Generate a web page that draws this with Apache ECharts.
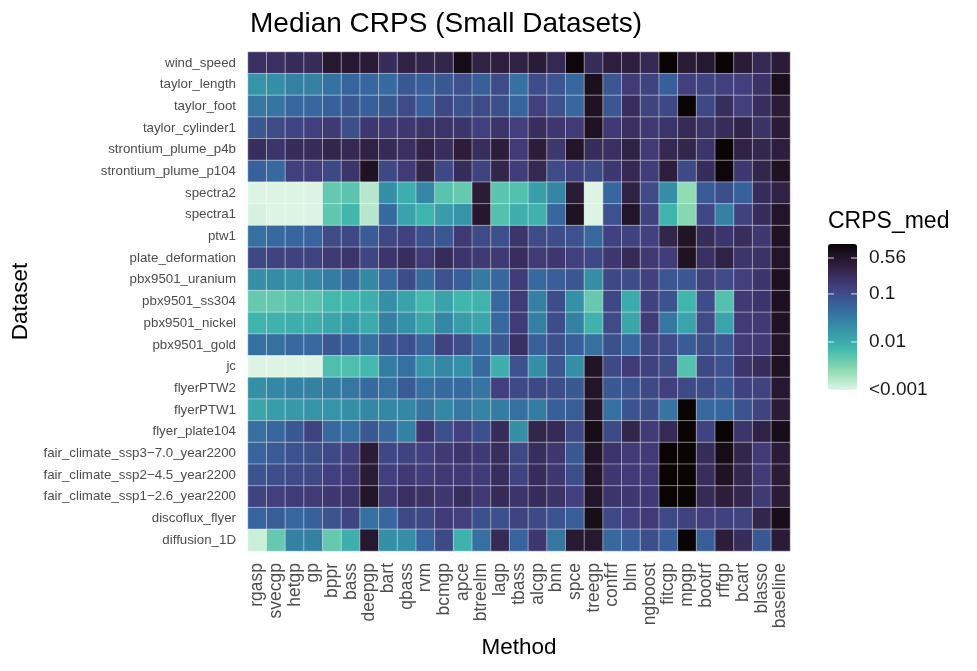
<!DOCTYPE html>
<html>
<head>
<meta charset="utf-8">
<title>Median CRPS (Small Datasets)</title>
<script src="https://cdn.jsdelivr.net/npm/echarts@6/dist/echarts.min.js"></script>
<style>
  html, body { margin: 0; padding: 0; background: #fff; }
  #chart { width: 977px; height: 671px; }
</style>
</head>
<body>
<div id="chart"></div>
<script>
// methods along x, datasets top to bottom along y
const methods = ["rgasp", "svecgp", "hetgp", "gp", "bppr", "bass", "deepgp", "bart", "qbass", "rvm",
  "bcmgp", "apce", "btreelm", "lagp", "tbass", "alcgp", "bnn", "spce", "treegp", "confrf",
  "blm", "ngboost", "fitcgp", "mpgp", "bootrf", "rffgp", "bcart", "blasso", "baseline"];

const datasets = ["wind_speed", "taylor_length", "taylor_foot", "taylor_cylinder1", "strontium_plume_p4b",
  "strontium_plume_p104", "spectra2", "spectra1", "ptw1", "plate_deformation", "pbx9501_uranium",
  "pbx9501_ss304", "pbx9501_nickel", "pbx9501_gold", "jc", "flyerPTW2", "flyerPTW1", "flyer_plate104",
  "fair_climate_ssp3\u22127.0_year2200", "fair_climate_ssp2\u22124.5_year2200", "fair_climate_ssp1\u22122.6_year2200",
  "discoflux_flyer", "diffusion_1D"];

// log10 of median CRPS, one row per dataset (values below 0.001 clipped to -3)
const log10Crps = [
  [-0.65,-0.65,-0.6,-0.6,-0.3,-0.3,-0.35,-0.6,-0.45,-0.5,-0.5,-0.1,-0.45,-0.4,-0.45,-0.35,-0.55,0.0,-0.6,-0.4,-0.4,-0.55,0.05,-0.35,-0.3,0.05,-0.35,-0.55,-0.35],
  [-1.75,-1.7,-1.55,-1.55,-1.4,-1.25,-1.28,-1.32,-1.12,-1.2,-1.12,-1.05,-1.2,-0.98,-1.4,-1.0,-1.1,-1.28,-0.15,-1.1,-0.8,-0.9,-1.2,-0.85,-0.9,-0.85,-0.85,-0.68,-0.15],
  [-1.45,-1.42,-1.28,-1.28,-1.22,-1.12,-1.2,-1.12,-0.98,-1.2,-0.95,-1.05,-0.98,-1.02,-1.25,-0.85,-1.05,-1.28,-0.2,-1.1,-0.62,-0.9,-0.95,0.05,-0.95,-0.62,-0.85,-0.62,-0.35],
  [-1.12,-0.98,-0.92,-0.85,-0.78,-1.02,-0.75,-0.78,-0.75,-0.7,-0.7,-0.72,-0.85,-0.7,-0.85,-0.62,-0.75,-0.8,-0.2,-0.78,-0.65,-0.78,-0.7,-0.58,-0.7,-0.6,-0.48,-0.68,-0.35],
  [-0.62,-0.72,-0.6,-0.6,-0.5,-0.55,-0.45,-0.58,-0.65,-0.48,-0.62,-0.38,-0.62,-0.38,-0.8,-0.38,-0.75,-0.25,-0.6,-0.65,-0.45,-0.8,-0.55,-0.5,-0.72,0.05,-0.45,-0.52,-0.4],
  [-1.22,-1.3,-0.85,-0.85,-0.95,-0.72,-0.2,-0.95,-0.8,-0.5,-0.95,-0.6,-0.9,-0.5,-0.82,-0.55,-0.98,-0.88,-0.97,-0.75,-0.55,-0.82,-0.4,-0.97,-0.6,0.0,-0.75,-0.5,-0.2],
  [-3,-3,-3,-3,-2.35,-2.3,-2.8,-1.7,-2.05,-1.62,-2.28,-2.35,-0.35,-2.3,-2.25,-1.88,-1.6,-0.35,-3,-1.28,-0.45,-0.98,-1.7,-2.6,-1.15,-1.02,-1.22,-0.6,-0.45],
  [-2.95,-3,-3,-3,-2.32,-2.12,-2.8,-1.32,-1.9,-2.1,-1.85,-1.75,-0.28,-2.25,-2.05,-2.08,-1.28,-0.2,-3,-1.05,-0.25,-0.88,-2.1,-2.55,-0.95,-1.55,-0.88,-0.6,-0.25],
  [-1.38,-1.3,-1.27,-1.24,-0.98,-0.95,-1.15,-0.95,-0.87,-1.03,-1.1,-0.78,-0.98,-1.03,-0.72,-0.98,-1.0,-1.05,-1.3,-0.87,-0.88,-0.87,-0.5,-0.22,-0.6,-0.72,-0.62,-0.75,-0.2],
  [-0.95,-0.9,-0.87,-0.9,-0.78,-0.72,-0.92,-0.72,-0.62,-0.8,-0.6,-0.72,-0.78,-0.78,-0.62,-0.8,-0.75,-0.85,-0.95,-0.75,-0.58,-0.78,-0.82,-0.2,-0.65,-0.45,-0.72,-0.68,-0.25],
  [-1.7,-1.68,-1.72,-1.62,-1.5,-1.3,-1.62,-1.3,-1.0,-1.32,-1.05,-1.2,-1.48,-1.28,-0.8,-1.3,-1.18,-1.1,-1.7,-0.95,-1.0,-0.87,-1.1,-1.1,-0.88,-0.98,-0.85,-0.72,-0.18],
  [-2.35,-2.35,-2.28,-2.28,-2.15,-2.12,-2.05,-1.7,-1.9,-2.15,-1.9,-2.12,-2.1,-1.3,-0.8,-1.55,-1.0,-1.72,-2.35,-0.95,-2.0,-0.88,-1.08,-2.12,-1.0,-2.25,-0.78,-0.72,-0.18],
  [-2.1,-2.08,-2.05,-2.05,-1.95,-1.82,-2.0,-1.55,-1.72,-1.95,-1.62,-1.85,-1.95,-1.3,-0.8,-1.55,-1.0,-1.55,-2.08,-0.98,-1.95,-0.8,-1.45,-1.92,-0.98,-1.92,-0.8,-0.78,-0.2],
  [-1.38,-1.38,-1.3,-1.3,-1.12,-1.2,-1.38,-1.12,-1.05,-1.25,-0.9,-1.02,-1.3,-1.12,-0.65,-1.22,-1.03,-1.2,-1.38,-1.03,-1.28,-0.92,-0.98,-1.17,-1.02,-1.1,-0.8,-0.78,-0.25],
  [-3,-3,-3,-3,-2.22,-2.22,-2.15,-1.5,-1.38,-1.75,-1.62,-1.72,-1.32,-2.05,-1.05,-1.7,-1.1,-1.7,-0.22,-0.97,-0.8,-0.88,-0.98,-2.25,-0.95,-1.05,-0.72,-0.6,-0.2],
  [-1.7,-1.62,-1.55,-1.55,-1.5,-1.45,-1.32,-1.38,-1.15,-1.38,-1.32,-1.3,-1.42,-0.85,-0.97,-0.95,-1.0,-1.12,-0.25,-1.12,-1.08,-0.97,-0.85,-0.97,-1.0,-1.12,-0.88,-0.9,-0.3],
  [-1.95,-1.85,-1.8,-1.75,-1.75,-1.7,-1.62,-1.62,-1.62,-1.42,-1.62,-1.45,-1.58,-1.5,-1.38,-1.5,-1.2,-1.18,-0.25,-1.38,-1.08,-1.02,-1.42,0.05,-1.3,-1.27,-1.08,-0.9,-0.35],
  [-1.38,-1.28,-1.12,-0.9,-1.3,-1.38,-1.12,-1.3,-1.55,-0.72,-1.03,-0.85,-1.03,-0.6,-1.7,-0.5,-0.58,-0.97,-0.1,-0.97,-0.5,-0.8,-0.58,0.05,-0.9,0.05,-0.72,-0.45,-0.12],
  [-1.25,-1.15,-1.08,-1.03,-0.97,-0.87,-0.35,-0.95,-0.9,-0.87,-0.78,-0.72,-0.78,-0.62,-0.97,-0.62,-0.75,-1.12,-0.22,-0.7,-0.8,-0.8,0.05,0.05,-0.6,-0.1,-0.5,-0.8,-0.35],
  [-1.08,-1.02,-0.98,-0.97,-0.85,-0.8,-0.35,-0.85,-0.78,-0.82,-0.78,-0.78,-0.8,-0.62,-0.9,-0.6,-0.75,-1.02,-0.25,-0.75,-0.8,-0.8,0.05,0.05,-0.62,-0.2,-0.52,-0.8,-0.35],
  [-0.9,-0.85,-0.8,-0.8,-0.75,-0.7,-0.25,-0.78,-0.65,-0.68,-0.75,-0.62,-0.78,-0.58,-0.72,-0.6,-0.68,-0.85,-0.25,-0.72,-0.75,-0.78,0.05,0.05,-0.58,-0.38,-0.52,-0.78,-0.35],
  [-1.25,-1.18,-1.28,-1.22,-1.08,-0.92,-1.38,-1.28,-0.97,-0.95,-0.8,-0.85,-1.03,-1.03,-0.9,-0.97,-1.08,-1.18,-0.12,-0.97,-0.85,-0.8,-0.97,-0.88,-0.85,-0.88,-0.9,-0.5,-0.12],
  [-2.9,-2.35,-1.55,-1.55,-2.35,-2.05,-0.3,-1.7,-1.7,-1.25,-0.97,-2.08,-1.38,-0.58,-1.25,-0.75,-1.45,-0.32,-0.3,-1.3,-1.22,-1.02,-1.2,0.05,-1.2,-0.38,-0.6,-1.12,-0.35]
];

// colour bar breaks
const legendTicks = [0.56, 0.1, 0.01, 0.001];
const legendLabels = ["0.56", "0.1", "0.01", "<0.001"];
const logMin = -3;
const logMax = 0.04;

// mako(8), light end first
const makoR = ["#DEF5E5", "#8AD9B1", "#40B7AD", "#348FA7", "#37659E", "#413D7B", "#2E1E3C", "#0B0405"];

const FONT = "Liberation Sans, Arial, sans-serif";

const cells = [];
log10Crps.forEach((row, yi) => {
  row.forEach((v, xi) => cells.push([xi, yi, v]));
});

// legend bar geometry
const barLeft = 828, barTop = 244, barW = 29, barH = 146;
const tickY = (v) => barTop + barH * (logMax - Math.log10(v)) / (logMax - logMin);

const legendGraphics = [
  { type: "text", left: barLeft, top: 210,
    style: { text: "CRPS_med", font: "23px " + FONT, fill: "#000" } }
];
legendTicks.forEach((v, i) => {
  const y = tickY(v);
  legendGraphics.push(
    { type: "line", z: 100, shape: { x1: barLeft, y1: y, x2: barLeft + 6, y2: y },
      style: { stroke: "rgba(255,255,255,0.8)", lineWidth: 1 } },
    { type: "line", z: 100, shape: { x1: barLeft + barW - 6, y1: y, x2: barLeft + barW, y2: y },
      style: { stroke: "rgba(255,255,255,0.8)", lineWidth: 1 } },
    { type: "text", z: 100, x: barLeft + barW + 12, y: y,
      style: { text: legendLabels[i], font: "19px " + FONT, fill: "#1a1a1a", textVerticalAlign: "middle" } }
  );
});

const chart = echarts.init(document.getElementById("chart"));

chart.setOption({
  backgroundColor: "#fff",
  animation: false,
  title: {
    text: "Median CRPS (Small Datasets)",
    left: 245, top: 5,
    textStyle: { fontFamily: FONT, fontSize: 28, fontWeight: "normal", color: "#000" }
  },
  grid: { left: 248, right: 187, top: 52, bottom: 120 },
  xAxis: {
    type: "category",
    data: methods,
    name: "Method",
    nameLocation: "middle",
    nameGap: 80,
    nameTextStyle: { fontFamily: FONT, fontSize: 22.5, color: "#000" },
    axisLine: { show: false },
    axisTick: { show: false },
    splitLine: { show: false },
    axisLabel: { rotate: 90, interval: 0, margin: 12, fontFamily: FONT, fontSize: 17.5, color: "#4d4d4d" }
  },
  yAxis: {
    type: "category",
    data: datasets,
    inverse: true,
    name: "Dataset",
    nameLocation: "middle",
    nameGap: 216,
    nameTextStyle: { fontFamily: FONT, fontSize: 22.5, color: "#000" },
    axisLine: { show: false },
    axisTick: { show: false },
    splitLine: { show: false },
    axisLabel: { interval: 0, margin: 12, fontFamily: FONT, fontSize: 13.3, color: "#4d4d4d" }
  },
  visualMap: {
    type: "continuous",
    min: logMin,
    max: logMax,
    dimension: 2,
    calculable: false,
    left: barLeft,
    top: barTop,
    padding: 0,
    itemWidth: barW,
    itemHeight: barH,
    inRange: { color: makoR }
  },
  graphic: legendGraphics,
  series: [{
    type: "heatmap",
    data: cells,
    itemStyle: { borderColor: "rgba(255,255,255,0.55)", borderWidth: 0.8 },
    emphasis: { disabled: true }
  }]
});
</script>
</body>
</html>
